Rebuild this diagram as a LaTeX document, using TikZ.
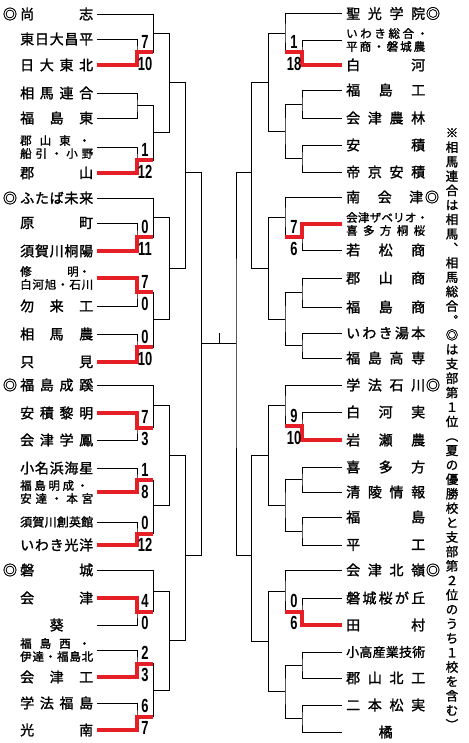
\documentclass[tikz,border=0pt]{standalone}
\usepackage{fontspec}
\usepackage{graphicx}
\newfontfamily\jp[FakeBold=1.5]{Noto Sans CJK JP}
\newfontfamily\numf{Liberation Sans}
\definecolor{winred}{RGB}{230,30,38}
\newcommand{\hs}{\hfil}
\newcommand{\nmL}[1]{\makebox[73pt][s]{#1}}
\newcommand{\nmR}[1]{\makebox[79pt][s]{#1}}
\newcommand{\sco}[1]{\scalebox{0.68}[1]{\numf\bfseries\fontsize{19}{19}\selectfont #1}}
\tikzset{
  ln/.style={anchor=west, inner sep=0pt, font=\jp\fontsize{14}{16}\selectfont},
  lsm/.style={anchor=west, inner sep=0pt, font=\jp\fontsize{12}{14}\selectfont},
  rsm/.style={anchor=west, inner sep=0pt, font=\jp\fontsize{13}{15}\selectfont},
  two/.style={anchor=west, inner sep=0pt, align=left, font=\jp\fontsize{11.5}{13}\selectfont},
  mk/.style={inner sep=0pt, font=\jp\fontsize{14}{16}\selectfont},
  br/.style={line width=0.9pt, draw=black},
  win/.style={line width=4pt, draw=winred, line join=miter},
  sc/.style={inner sep=0pt},
  note/.style={anchor=north, inner sep=0pt, align=center, font=\jp\fontsize{12.5}{14.44}\selectfont}
}
\begin{document}
\begin{tikzpicture}[x=1pt,y=-1pt]
\useasboundingbox (0,0) rectangle (468,743);
% ---------------- left names ----------------
\node[mk] (oL1) at (10,14) {◎};
\node[ln] (nL1) at (20,14) {\nmL{尚\hs 志}};
\node[ln] (nL2) at (20,39) {\nmL{東\hs 日\hs 大\hs 昌\hs 平}};
\node[ln] (nL3) at (20,65) {\nmL{日\hs 大\hs 東\hs 北}};
\node[ln] (nL4) at (20,93) {\nmL{相\hs 馬\hs 連\hs 合}};
\node[ln] (nL5) at (20,118) {\nmL{福\hs 島\hs 東}};
\node[two] (nL6) at (20,147) {\makebox[70pt][s]{郡\hs 山\hs 東\hs ・}\\\makebox[73pt][s]{船\hs 引\hs ・\hs 小\hs 野}};
\node[ln] (nL7) at (20,173) {\nmL{郡\hs 山}};
\node[mk] (oL8) at (10,198) {◎};
\node[ln] (nL8) at (20,198) {\nmL{ふ\hs た\hs ば\hs 未\hs 来}};
\node[ln] (nL9) at (20,223) {\nmL{原\hs 町}};
\node[ln] (nL10) at (20,251) {\nmL{須\hs 賀\hs 川\hs 桐\hs 陽}};
\node[two] (nL11) at (20,278) {\makebox[70pt][s]{修\hs 明・}\\\makebox[73pt][s]{白\hs 河\hs 旭\hs ・\hs 石\hs 川}};
\node[ln] (nL12) at (20,306) {\nmL{勿\hs 来\hs 工}};
\node[ln] (nL13) at (20,334) {\nmL{相\hs 馬\hs 農}};
\node[ln] (nL14) at (20,362) {\nmL{只\hs 見}};
\node[mk] (oL15) at (10,385) {◎};
\node[ln] (nL15) at (20,385) {\nmL{福\hs 島\hs 成\hs 蹊}};
\node[ln] (nL16) at (20,413) {\nmL{安\hs 積\hs 黎\hs 明}};
\node[ln] (nL17) at (20,440) {\nmL{会\hs 津\hs 学\hs 鳳}};
\node[ln] (nL18) at (20,468) {\nmL{小\hs 名\hs 浜\hs 海\hs 星}};
\node[two] (nL19) at (20,492) {\makebox[68pt][s]{福\hs 島\hs 明\hs 成\hs ・}\\\makebox[73pt][s]{安\hs 達\hs ・\hs 本\hs 宮}};
\node[lsm] (nL20) at (20,522) {\nmL{須\hs 賀\hs 川\hs 創\hs 英\hs 館}};
\node[ln] (nL21) at (20,545) {\nmL{い\hs わ\hs き\hs 光\hs 洋}};
\node[mk] (oL22) at (10,570) {◎};
\node[ln] (nL22) at (20,570) {\nmL{磐\hs 城}};
\node[ln] (nL23) at (20,598) {\nmL{会\hs 津}};
\node[ln] (nL24) at (20,625) {\makebox[73pt][c]{葵}};
\node[two] (nL25) at (20,650) {\makebox[70pt][s]{福\hs 島\hs 西\hs ・}\\\makebox[73pt][s]{伊\hs 達\hs ・\hs 福\hs 島\hs 北}};
\node[ln] (nL26) at (20,677) {\nmL{会\hs 津\hs 工}};
\node[ln] (nL27) at (20,703) {\nmL{学\hs 法\hs 福\hs 島}};
\node[ln] (nL28) at (20,730) {\nmL{光\hs 南}};
% ---------------- right names ----------------
\node[ln] (nR1) at (346,13.5) {\nmR{聖\hs 光\hs 学\hs 院}};
\node[mk] (oR1) at (433,13.5) {◎};
\node[two] (nR2) at (346,40) {\makebox[82pt][s]{い\hs わ\hs き\hs 総\hs 合\hs ・}\\\makebox[79pt][s]{平\hs 商\hs ・\hs 磐\hs 城\hs 農}};
\node[ln] (nR3) at (346,65) {\nmR{白\hs 河}};
\node[ln] (nR4) at (346,90) {\nmR{福\hs 島\hs 工}};
\node[ln] (nR5) at (346,118) {\nmR{会\hs 津\hs 農\hs 林}};
\node[ln] (nR6) at (346,145) {\nmR{安\hs 積}};
\node[ln] (nR7) at (346,172) {\nmR{帝\hs 京\hs 安\hs 積}};
\node[ln] (nR8) at (346,197) {\makebox[77pt][s]{南\hs 会\hs 津}};
\node[mk] (oR8) at (432,197) {◎};
\node[two] (nR9) at (346,224) {\makebox[82pt][s]{会\hs 津\hs ザ\hs ベ\hs リ\hs オ\hs ・}\\\makebox[79pt][s]{喜\hs 多\hs 方\hs 桐\hs 桜}};
\node[ln] (nR10) at (346,250) {\nmR{若\hs 松\hs 商}};
\node[ln] (nR11) at (346,278) {\nmR{郡\hs 山\hs 商}};
\node[ln] (nR12) at (346,307) {\nmR{福\hs 島\hs 商}};
\node[ln] (nR13) at (346,333) {\nmR{い\hs わ\hs き\hs 湯\hs 本}};
\node[ln] (nR14) at (346,358) {\nmR{福\hs 島\hs 高\hs 専}};
\node[ln] (nR15) at (346,385) {\nmR{学\hs 法\hs 石\hs 川}};
\node[mk] (oR15) at (433,385) {◎};
\node[ln] (nR16) at (346,412) {\nmR{白\hs 河\hs 実}};
\node[ln] (nR17) at (346,440) {\nmR{岩\hs 瀬\hs 農}};
\node[ln] (nR18) at (346,467) {\nmR{喜\hs 多\hs 方}};
\node[ln] (nR19) at (346,492) {\nmR{清\hs 陵\hs 情\hs 報}};
\node[ln] (nR20) at (346,517) {\nmR{福\hs 島}};
\node[ln] (nR21) at (346,545) {\nmR{平\hs 工}};
\node[ln] (nR22) at (346,570) {\nmR{会\hs 津\hs 北\hs 嶺}};
\node[mk] (oR22) at (433,570) {◎};
\node[ln] (nR23) at (346,598) {\nmR{磐\hs 城\hs 桜\hs が\hs 丘}};
\node[ln] (nR24) at (346,625) {\nmR{田\hs 村}};
\node[rsm] (nR25) at (346,652) {\nmR{小\hs 高\hs 産\hs 業\hs 技\hs 術}};
\node[ln] (nR26) at (346,678) {\nmR{郡\hs 山\hs 北\hs 工}};
\node[ln] (nR27) at (346,705) {\nmR{二\hs 本\hs 松\hs 実}};
\node[ln] (nR28) at (346,732) {\makebox[79pt][c]{橘}};
% ---------------- team line ends ----------------
\foreach \i in {1,...,28}{
  \coordinate (tL\i) at ([xshift=4pt]nL\i.east);
  \coordinate (tR\i) at ([xshift=-4pt]nR\i.west);
}
% ---------------- left junctions ----------------
\coordinate (a1) at (137,52);   \coordinate (a2) at (137,105.5);
\coordinate (a3) at (137,160);  \coordinate (a4) at (137,237);
\coordinate (a5) at (137,292);  \coordinate (a6) at (137,347);
\coordinate (a7) at (137,427.5);\coordinate (a8) at (137,480);
\coordinate (a9) at (137,533.5);\coordinate (a10) at (137,611.5);
\coordinate (a11) at (137,663.5);\coordinate (a12) at (137,716.5);
\coordinate (b1) at (153.3,33);  \coordinate (b2) at (153.3,132.5);
\coordinate (b3) at (153.3,217.5);\coordinate (b4) at (153.3,319);
\coordinate (b5) at (153.3,405.5);\coordinate (b6) at (153.3,505);
\coordinate (b7) at (153.3,591); \coordinate (b8) at (153.3,690);
\coordinate (c1) at (169.3,82);  \coordinate (c2) at (169.3,268);
\coordinate (c3) at (169.3,455); \coordinate (c4) at (169.3,640.5);
\coordinate (d1) at (185.7,172); \coordinate (d2) at (185.7,555);
\coordinate (e1) at (201.7,343);
% ---------------- right junctions ----------------
\coordinate (p1) at (302,52.5);  \coordinate (p2) at (302,104);
\coordinate (p3) at (302,158.5); \coordinate (p4) at (302,237);
\coordinate (p5) at (302,292.5); \coordinate (p6) at (302,345.5);
\coordinate (p7) at (302,426);   \coordinate (p8) at (302,479.5);
\coordinate (p9) at (302,531);   \coordinate (p10) at (302,611.5);
\coordinate (p11) at (302,665);  \coordinate (p12) at (302,718.5);
\coordinate (q1) at (285,33);    \coordinate (q2) at (285,131);
\coordinate (q3) at (285,217);   \coordinate (q4) at (285,319);
\coordinate (q5) at (285,405.5); \coordinate (q6) at (285,505);
\coordinate (q7) at (285,591);   \coordinate (q8) at (285,691);
\coordinate (r1) at (268.3,82);  \coordinate (r2) at (268.3,268);
\coordinate (r3) at (268.3,455); \coordinate (r4) at (268.3,641);
\coordinate (s1) at (251.7,172); \coordinate (s2) at (251.7,555);
\coordinate (f1) at (236,343);
\coordinate (tick) at (219.3,333);
% ---------------- black bracket lines ----------------
\draw[br] (tL2) -| (a1) |- (tL3);
\draw[br] (tL4) -| (a2) |- (tL5);
\draw[br] (tL6) -| (a3) |- (tL7);
\draw[br] (tL9) -| (a4) |- (tL10);
\draw[br] (tL11) -| (a5) |- (tL12);
\draw[br] (tL13) -| (a6) |- (tL14);
\draw[br] (tL16) -| (a7) |- (tL17);
\draw[br] (tL18) -| (a8) |- (tL19);
\draw[br] (tL20) -| (a9) |- (tL21);
\draw[br] (tL23) -| (a10) |- (tL24);
\draw[br] (tL25) -| (a11) |- (tL26);
\draw[br] (tL27) -| (a12) |- (tL28);
\draw[br] (tL1) -| (b1) |- (a1);
\draw[br] (a2) -| (b2) |- (a3);
\draw[br] (tL8) -| (b3) |- (a4);
\draw[br] (a5) -| (b4) |- (a6);
\draw[br] (tL15) -| (b5) |- (a7);
\draw[br] (a8) -| (b6) |- (a9);
\draw[br] (tL22) -| (b7) |- (a10);
\draw[br] (a11) -| (b8) |- (a12);
\draw[br] (b1) -| (c1) |- (b2);
\draw[br] (b3) -| (c2) |- (b4);
\draw[br] (b5) -| (c3) |- (b6);
\draw[br] (b7) -| (c4) |- (b8);
\draw[br] (c1) -| (d1) |- (c2);
\draw[br] (c3) -| (d2) |- (c4);
\draw[br] (d1) -| (e1) |- (d2);
\draw[br] (tR2) -| (p1) |- (tR3);
\draw[br] (tR4) -| (p2) |- (tR5);
\draw[br] (tR6) -| (p3) |- (tR7);
\draw[br] (tR9) -| (p4) |- (tR10);
\draw[br] (tR11) -| (p5) |- (tR12);
\draw[br] (tR13) -| (p6) |- (tR14);
\draw[br] (tR16) -| (p7) |- (tR17);
\draw[br] (tR18) -| (p8) |- (tR19);
\draw[br] (tR20) -| (p9) |- (tR21);
\draw[br] (tR23) -| (p10) |- (tR24);
\draw[br] (tR25) -| (p11) |- (tR26);
\draw[br] (tR27) -| (p12) |- (tR28);
\draw[br] (tR1) -| (q1) |- (p1);
\draw[br] (p2) -| (q2) |- (p3);
\draw[br] (tR8) -| (q3) |- (p4);
\draw[br] (p5) -| (q4) |- (p6);
\draw[br] (tR15) -| (q5) |- (p7);
\draw[br] (p8) -| (q6) |- (p9);
\draw[br] (tR22) -| (q7) |- (p10);
\draw[br] (p11) -| (q8) |- (p12);
\draw[br] (q1) -| (r1) |- (q2);
\draw[br] (q3) -| (r2) |- (q4);
\draw[br] (q5) -| (r3) |- (q6);
\draw[br] (q7) -| (r4) |- (q8);
\draw[br] (r1) -| (s1) |- (r2);
\draw[br] (r3) -| (s2) |- (r4);
\draw[br] (s1) -| (f1) |- (s2);
\draw[br] (e1) -- (f1);
\draw[br] (tick) -- (tick |- e1);
% ---------------- winner paths ----------------
\draw[win] (tL3) -| (a1) -- (a1 -| b1);
\draw[win] (tL7) -| (a3) -- (a3 -| b2);
\draw[win] (tL10) -| (a4) -- (a4 -| b3);
\draw[win] (tL11) -| (a5) -- (a5 -| b4);
\draw[win] (tL14) -| (a6) -- (a6 -| b4);
\draw[win] (tL16) -| (a7) -- (a7 -| b5);
\draw[win] (tL19) -| (a8) -- (a8 -| b6);
\draw[win] (tL21) -| (a9) -- (a9 -| b6);
\draw[win] (tL23) -| (a10) -- (a10 -| b7);
\draw[win] (tL26) -| (a11) -- (a11 -| b8);
\draw[win] (tL28) -| (a12) -- (a12 -| b8);
\draw[win] (tR3) -| (p1) -- (p1 -| q1);
\draw[win] (tR9) -| (p4) -- (p4 -| q3);
\draw[win] (tR17) -| (p7) -- (p7 -| q5);
\draw[win] (tR24) -| (p10) -- (p10 -| q7);
% ---------------- scores ----------------
\foreach \m/\t/\b in {a1/7/10, a3/1/12, a4/0/11, a5/7/0, a6/0/10, a7/7/3, a8/1/8, a9/0/12, a10/4/0, a11/2/3, a12/6/7}{
  \node[sc, anchor=south] (\m t) at ([xshift=8pt,yshift=3.5pt]\m) {\sco{\t}};
  \node[sc, anchor=north] (\m b) at ([xshift=8pt,yshift=-5pt]\m) {\sco{\b}};
}
\foreach \m/\t/\b in {p1/1/18, p4/7/6, p7/9/10, p10/0/6}{
  \node[sc, anchor=south] (\m t) at ([xshift=-8pt,yshift=3.5pt]\m) {\sco{\t}};
  \node[sc, anchor=north] (\m b) at ([xshift=-8pt,yshift=-5pt]\m) {\sco{\b}};
}
% ---------------- vertical note ----------------
\node[note] (vnote) at (452,128) {※\\相\\馬\\連\\合\\は\\相\\馬\\︑\\相\\馬\\総\\合\\︒\\◎\\は\\支\\部\\第\\１\\位\\︵\\夏\\の\\優\\勝\\校\\と\\支\\部\\第\\２\\位\\の\\う\\ち\\１\\校\\を\\含\\む\\︶};
\end{tikzpicture}
\end{document}
